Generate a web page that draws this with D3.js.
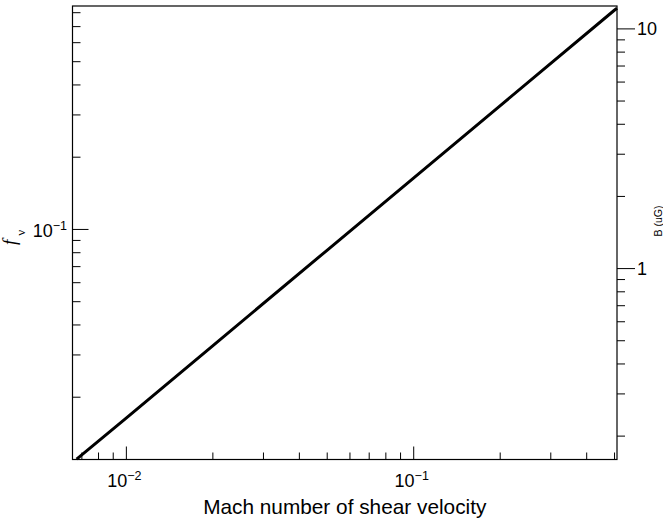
<!DOCTYPE html>
<html>
<head>
<meta charset="utf-8">
<script src="https://cdn.jsdelivr.net/npm/d3@7"></script>
<style>
  html, body { margin: 0; padding: 0; background: #fff; }
  text { font-family: "Liberation Sans", Arial, Helvetica, sans-serif; fill: #000; }
</style>
</head>
<body>
<script>
// ---- data ----
const mach = [0.00674, 0.01, 0.02, 0.05, 0.1, 0.2, 0.5, 0.512];
const fnu  = [0.01098, 0.01625, 0.0325, 0.0813, 0.1625, 0.325, 0.813, 0.831];
const xDomain = [0.00652, 0.512];
const yDomain = [0.01095, 0.849];
const bDomain = [0.159, 12.4];
const xMajor = [0.01, 0.1];
const xMajorLabels = [["10", "\u22122"], ["10", "\u22121"]];
const yMajor = [0.1];
const yMajorLabels = [["10", "\u22121"]];
const bMajor = [1, 10];
const bMajorLabels = ["1", "10"];
const xTitle = "Mach number of shear velocity";
const bTitle = "B (uG)";

// ---- layout ----
const W = 663, H = 523;
const L = 72.5, R = 617, T = 6, B = 459.5;

const svg = d3.select("body").append("svg").attr("width", W).attr("height", H);
svg.append("rect").attr("width", W).attr("height", H).attr("fill", "#fff");

const x = d3.scaleLog().domain(xDomain).range([L, R]);
const y = d3.scaleLog().domain(yDomain).range([B, T]);
const yB = d3.scaleLog().domain(bDomain).range([B, T]);

const isMajor = (v, majors) => majors.some(m => Math.abs(v / m - 1) < 1e-6);
const xMinor = x.ticks().filter(v => !isMajor(v, xMajor));
const yMinor = y.ticks().filter(v => !isMajor(v, yMajor));
const bMinor = yB.ticks().filter(v => !isMajor(v, bMajor));

function styleAxis(g) {
  g.select(".domain").remove();
  g.selectAll(".tick line").attr("stroke", "#000").attr("stroke-width", 1);
  g.selectAll(".tick text").remove();
}

// bottom axis (ticks inside)
svg.append("g").attr("transform", `translate(0,${B})`)
  .call(d3.axisBottom(x).tickValues(xMinor).tickSize(-7).tickFormat("")).call(styleAxis);
svg.append("g").attr("transform", `translate(0,${B})`)
  .call(d3.axisBottom(x).tickValues(xMajor).tickSize(-13).tickFormat("")).call(styleAxis);

// left axis (ticks inside)
svg.append("g").attr("transform", `translate(${L},0)`)
  .call(d3.axisLeft(y).tickValues(yMinor).tickSize(-8).tickFormat("")).call(styleAxis);
svg.append("g").attr("transform", `translate(${L},0)`)
  .call(d3.axisLeft(y).tickValues(yMajor).tickSize(-16).tickFormat("")).call(styleAxis);

// right axis (ticks outside)
svg.append("g").attr("transform", `translate(${R},0)`)
  .call(d3.axisRight(yB).tickValues(bMinor).tickSize(8).tickFormat("")).call(styleAxis);
svg.append("g").attr("transform", `translate(${R},0)`)
  .call(d3.axisRight(yB).tickValues(bMajor).tickSize(18).tickFormat("")).call(styleAxis);

// frame
svg.append("rect").attr("x", L).attr("y", T).attr("width", R - L).attr("height", B - T)
  .attr("fill", "none").attr("stroke", "#000").attr("stroke-width", 1.2);

// line
const line = d3.line().x((d, i) => x(mach[i])).y((d, i) => y(fnu[i]));
svg.append("path").datum(mach).attr("d", line)
  .attr("fill", "none").attr("stroke", "#000").attr("stroke-width", 3);

// bottom labels
xMajor.forEach((v, i) => {
  const t = svg.append("text").attr("x", x(v) - 1.5).attr("y", 487)
    .attr("text-anchor", "middle").style("font-size", "18px");
  t.append("tspan").text(xMajorLabels[i][0]);
  t.append("tspan").attr("dy", -7.5).style("font-size", "12.5px").text(xMajorLabels[i][1]);
});

// left labels
yMajor.forEach((v, i) => {
  const t = svg.append("text").attr("x", 67).attr("y", y(v) + 8.5)
    .attr("text-anchor", "end").style("font-size", "18px");
  t.append("tspan").text(yMajorLabels[i][0]);
  t.append("tspan").attr("dy", -7.5).style("font-size", "12.5px").text(yMajorLabels[i][1]);
});

// right labels
bMajor.forEach((v, i) => {
  svg.append("text").attr("x", 637).attr("y", yB(v) + 6.7)
    .style("font-size", "18px").text(bMajorLabels[i]);
});

// x title
svg.append("text").attr("x", (L + R) / 2).attr("y", 513.5)
  .attr("text-anchor", "middle").style("font-size", "20.8px").text(xTitle);

// left title f_nu
const ft = svg.append("text").attr("transform", "translate(16,245) rotate(-90)");
ft.append("tspan").style("font-family", "'Liberation Serif', 'Times New Roman', serif")
  .style("font-style", "italic").style("font-size", "19px").text("f");
ft.append("tspan").attr("dx", 4).attr("dy", 9)
  .style("font-family", "'Liberation Serif', 'Times New Roman', serif")
  .style("font-size", "13px").text("\u03bd");

// right title
svg.append("text").attr("transform", "translate(662,221) rotate(-90)")
  .attr("text-anchor", "middle").style("font-size", "10.5px").text(bTitle);
</script>
</body>
</html>
